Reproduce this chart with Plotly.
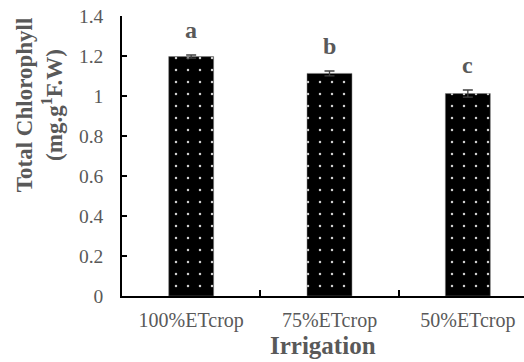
import plotly.graph_objects as go

categories = ["100%ETcrop", "75%ETcrop", "50%ETcrop"]
values = [1.197, 1.113, 1.012]
errors = [0.008, 0.012, 0.018]
letters = ["a", "b", "c"]
y_ticks = [0, 0.2, 0.4, 0.6, 0.8, 1.0, 1.2, 1.4]
y_tick_labels = ["0", "0.2", "0.4", "0.6", "0.8", "1", "1.2", "1.4"]

GRAY = "#595959"
FONT = "Liberation Serif"

fig = go.Figure()
fig.add_trace(go.Bar(
    x=list(range(len(categories))),
    y=values,
    width=0.325,
    marker=dict(
        color="black",
        line=dict(color="#7f7f7f", width=0.5),
        pattern=dict(shape=".", fgcolor="#cfcfcf", bgcolor="black",
                     size=12, solidity=0.035, fillmode="replace"),
    ),
    error_y=dict(type="data", array=errors, visible=True,
                 color="#404040", thickness=1.3, width=5),
    showlegend=False,
))

for i, (v, e, l) in enumerate(zip(values, errors, letters)):
    fig.add_annotation(x=i, y=v + e, text="<b>%s</b>" % l, showarrow=False,
                       yanchor="middle", yshift=25,
                       font=dict(family=FONT, size=24, color=GRAY))

fig.add_annotation(
    xref="paper", yref="paper", x=-0.205, y=0.68,
    text="<b>Total Chlorophyll</b><br><b>(mg.g<sup>1</sup>F.W)</b>",
    textangle=-90, showarrow=False, xanchor="center", yanchor="middle",
    font=dict(family=FONT, size=23, color=GRAY),
)
fig.add_annotation(
    xref="paper", yref="paper", x=0.5, y=-0.175,
    text="<b>Irrigation</b>", showarrow=False,
    xanchor="center", yanchor="middle",
    font=dict(family=FONT, size=25, color=GRAY),
)

fig.update_layout(
    width=524, height=362,
    margin=dict(l=122, r=0, t=16, b=66),
    paper_bgcolor="white", plot_bgcolor="white",
    font=dict(family=FONT, color=GRAY),
)
fig.update_xaxes(
    range=[-0.5, 2.406],
    tickmode="array", tickvals=[0, 1, 2], ticktext=categories,
    showline=True, linecolor="black", linewidth=1.5,
    ticks="", showgrid=False, zeroline=False,
    tickfont=dict(family=FONT, size=20, color=GRAY),
    ticklabelstandoff=5,
    minor=dict(tickmode="array", tickvals=[0.5, 1.5], ticks="inside",
               ticklen=6, tickcolor="black", tickwidth=1.5),
)
fig.update_yaxes(
    range=[0, 1.4],
    tickmode="array", tickvals=y_ticks, ticktext=y_tick_labels,
    showline=True, linecolor="black", linewidth=1.5,
    ticks="inside", ticklen=5, tickcolor="black", tickwidth=1.5,
    showgrid=False, zeroline=False,
    tickfont=dict(family=FONT, size=19.5, color=GRAY),
    ticklabelstandoff=13,
)

fig.write_html("out.html")
